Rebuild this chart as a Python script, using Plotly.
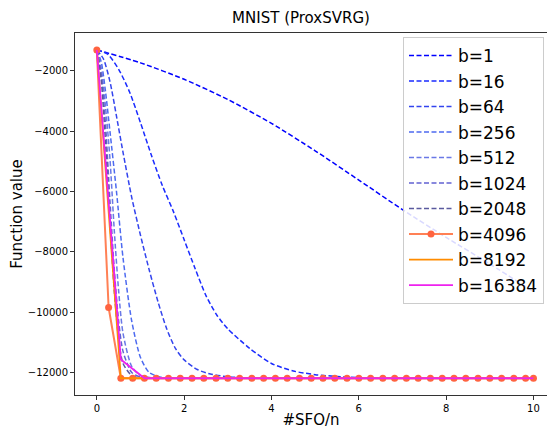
import plotly.graph_objects as go

# ---- data ----
labels = ["b=1", "b=16", "b=64", "b=256", "b=512", "b=1024", "b=2048", "b=4096", "b=8192", "b=16384"]

x_b1 = [0, 1, 2, 3, 4, 5, 6, 7, 8, 9, 10]
y_b1 = [-1305, -1735, -2280, -2950, -3740, -4650, -5620, -6600, -7520, -8400, -9320]

x_b16 = [0, 0.25, 0.5, 0.75, 1, 1.25, 1.5, 1.75, 2, 2.25, 2.5, 2.75, 3, 3.5, 4, 4.5, 5, 5.5, 6, 7, 8, 9, 10]
y_b16 = [-1305, -1450, -1950, -2700, -3720, -4800, -5800, -6650, -7600, -8550, -9450, -10100, -10550,
         -11200, -11700, -11950, -12070, -12130, -12170, -12190, -12190, -12190, -12190]

x_b64 = [0, 0.15, 0.3, 0.45, 0.6, 0.8, 1, 1.2, 1.4, 1.6, 1.8, 2, 2.3, 2.6, 3, 3.5, 4, 6, 8, 10]
y_b64 = [-1305, -1600, -2350, -3500, -4700, -6200, -7450, -8600, -9650, -10550, -11200, -11580,
         -11900, -12050, -12140, -12180, -12190, -12190, -12190, -12190]

x_b256 = [0, 0.1, 0.2, 0.3, 0.45, 0.6, 0.8, 1, 1.2, 1.5, 2, 4, 6, 8, 10]
y_b256 = [-1305, -1700, -2700, -4000, -6000, -8200, -10300, -11500, -12000, -12170, -12190,
          -12190, -12190, -12190, -12190]

x_b512 = [0, 0.1, 0.2, 0.3, 0.4, 0.5, 0.6, 0.8, 1, 1.3, 2, 4, 6, 8, 10]
y_b512 = [-1305, -1900, -3200, -4900, -7300, -9300, -10700, -11800, -12100, -12180, -12190,
          -12190, -12190, -12190, -12190]

x_b1024 = [0, 0.1, 0.2, 0.3, 0.4, 0.5, 0.6, 0.8, 1, 1.5, 2, 4, 6, 8, 10]
y_b1024 = [-1305, -2100, -3800, -6300, -8600, -10300, -11300, -12000, -12150, -12190, -12190,
           -12190, -12190, -12190, -12190]

x_b2048 = [0, 0.1, 0.2, 0.3, 0.4, 0.5, 0.6, 0.8, 1, 1.5, 2, 4, 6, 8, 10]
y_b2048 = [-1305, -2300, -4400, -7000, -9300, -10900, -11700, -12100, -12180, -12190, -12190,
           -12190, -12190, -12190, -12190]

x_b4096 = [0, 0.27, 0.55, 0.82, 1.09, 1.36, 1.64, 1.91, 2.18, 2.45, 2.73, 3.0, 3.27, 3.55, 3.82,
           4.09, 4.36, 4.64, 4.91, 5.18, 5.45, 5.73, 6.0, 6.27, 6.55, 6.82, 7.09, 7.36, 7.64,
           7.91, 8.18, 8.45, 8.73, 9.0, 9.27, 9.55, 9.82, 10.0]
y_b4096 = [-1305, -9845, -12190, -12190, -12190, -12190, -12190, -12190, -12190, -12190,
           -12190, -12190, -12190, -12190, -12190, -12190, -12190, -12190, -12190, -12190,
           -12190, -12190, -12190, -12190, -12190, -12190, -12190, -12190, -12190, -12190,
           -12190, -12190, -12190, -12190, -12190, -12190, -12190, -12190]

x_b8192 = [0, 0.55, 1.09, 1.64, 2.18, 2.73, 3.27, 3.82, 4.36, 4.91, 5.45, 6.0, 6.55, 7.09,
           7.64, 8.18, 8.73, 9.27, 9.82, 10.0]
y_b8192 = [-1305, -12190, -12190, -12190, -12190, -12190, -12190, -12190, -12190, -12190,
           -12190, -12190, -12190, -12190, -12190, -12190, -12190, -12190, -12190, -12190]

x_b16384 = [0, 0.55, 1.09, 1.64, 2.18, 2.73, 3.27, 3.82, 4.36, 4.91, 5.45, 6.0, 6.55, 7.09,
            7.64, 8.18, 8.73, 9.27, 9.82, 10.0]
y_b16384 = [-1305, -11570, -12190, -12190, -12190, -12190, -12190, -12190, -12190, -12190,
            -12190, -12190, -12190, -12190, -12190, -12190, -12190, -12190, -12190, -12190]

x_tick_vals = [0, 2, 4, 6, 8, 10]
x_tick_text = ["0", "2", "4", "6", "8", "10"]
y_tick_vals = [-12000, -10000, -8000, -6000, -4000, -2000]
y_tick_text = ["\u221212000", "\u221210000", "\u22128000", "\u22126000", "\u22124000", "\u22122000"]

# ---- styles ----
dash_colors = ["#0000ff", "#1a2bff", "#3344ee", "#4d6af0", "#6a78e6", "#6262d2", "#5a5a9e"]
dash_series = [(x_b1, y_b1), (x_b16, y_b16), (x_b64, y_b64), (x_b256, y_b256),
               (x_b512, y_b512), (x_b1024, y_b1024), (x_b2048, y_b2048)]

fig = go.Figure()
for (xs, ys), c, name in zip(dash_series, dash_colors, labels[:7]):
    fig.add_trace(go.Scatter(x=xs, y=ys, mode="lines", name=name, legendgroup=name,
                             line=dict(color=c, width=1.5, dash="5px,2.5px",
                                       shape="spline", smoothing=0.7)))

fig.add_trace(go.Scatter(x=x_b4096, y=y_b4096, mode="lines+markers", name=labels[7],
                         legendgroup=labels[7],
                         line=dict(color="#ff8055", width=2),
                         marker=dict(color="#ff6340", size=7)))
fig.add_trace(go.Scatter(x=x_b8192, y=y_b8192, mode="lines", name=labels[8],
                         legendgroup=labels[8],
                         line=dict(color="#ff8c00", width=1.8)))
fig.add_trace(go.Scatter(x=x_b16384, y=y_b16384, mode="lines", name=labels[9],
                         legendgroup=labels[9],
                         line=dict(color="#ee22ee", width=1.8)))

L, R, T, B = 75, 0, 33, 34
PW, PH = 547 - L - R, 429 - T - B
font_family = "DejaVu Sans"
fig.update_layout(
    width=547, height=429,
    margin=dict(l=L, r=R, t=T, b=B, autoexpand=False),
    paper_bgcolor="white", plot_bgcolor="white",
    font=dict(family=font_family, color="black"),
    title=dict(text="MNIST (ProxSVRG)", x=301 / 547, xanchor="center", y=1 - 18 / 429,
               yanchor="middle", font=dict(size=15, family=font_family)),
    showlegend=True,
    legend=dict(x=(403 - L) / PW, y=(429 - B - 37) / PH, xanchor="left", yanchor="top",
                bordercolor="#cccccc", borderwidth=1, bgcolor="rgba(255,255,255,0.85)",
                font=dict(size=17, family=font_family), itemwidth=44,
                traceorder="grouped", tracegroupgap=0.4),
)
fig.update_xaxes(range=[-0.5, 10.31], tickvals=x_tick_vals, ticktext=x_tick_text,
                 ticks="outside", ticklen=4,
                 tickcolor="#333", showline=True, linecolor="#333", linewidth=1, mirror=True,
                 showgrid=False, zeroline=False, tickfont=dict(size=10),
                 title=dict(text="#SFO/n", font=dict(size=15), standoff=4))
fig.update_yaxes(range=[-12745, -745], tickvals=y_tick_vals, ticktext=y_tick_text,
                 ticks="outside", ticklen=4,
                 tickcolor="#333", showline=True, linecolor="#333", linewidth=1, mirror=True,
                 showgrid=False, zeroline=False, tickfont=dict(size=10),
                 title=dict(text="Function value", font=dict(size=15), standoff=1))

fig.write_html("out.html", config={"displayModeBar": False},
               post_script="document.body.style.margin='0';document.body.style.overflow='hidden';")
